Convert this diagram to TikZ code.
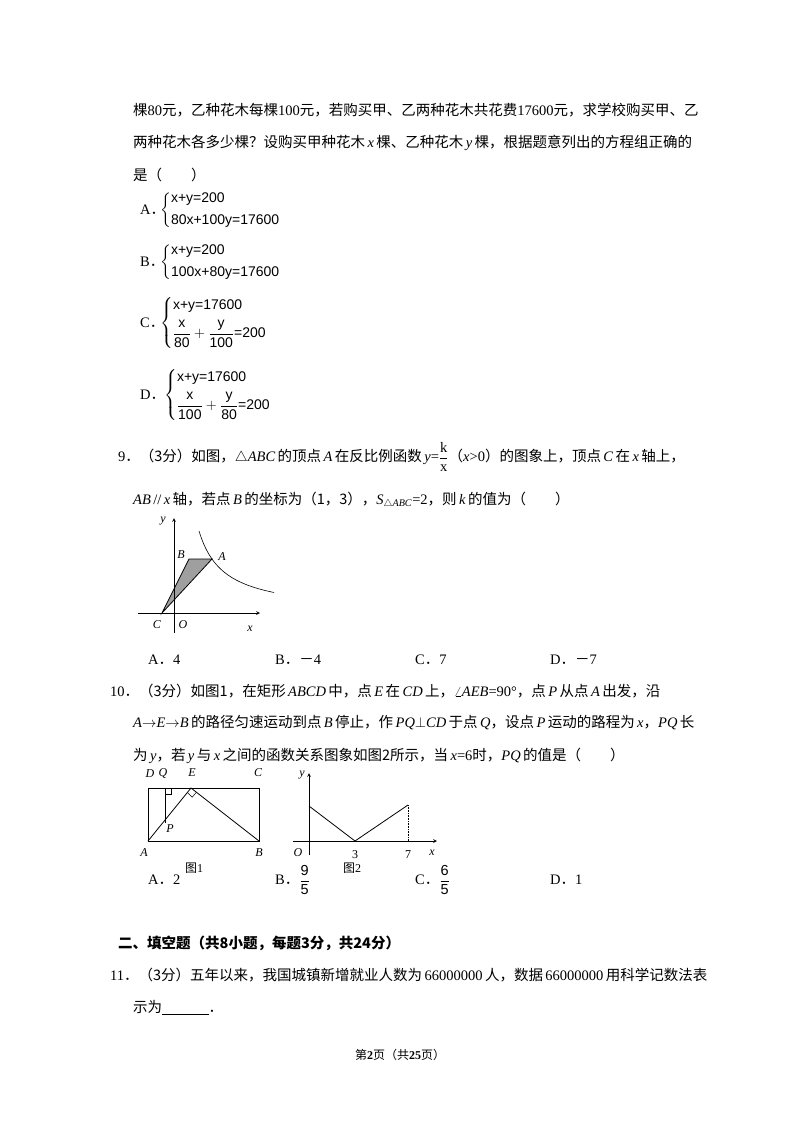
\documentclass[tikz,border=0pt]{standalone}
\usepackage{amsmath}
\usepackage{fontspec}
\setmainfont{Liberation Serif}
\setsansfont{Liberation Sans}
\newfontfamily\cjk{Noto Sans CJK SC}
\newcommand{\zh}[1]{{\cjk #1}}
\usetikzlibrary{calc}
\begin{document}
\begin{tikzpicture}[x=1pt,y=-1pt,
  txt/.style={anchor=west,inner sep=0pt,font=\fontsize{14.5}{16}\selectfont},
  eq/.style={anchor=west,inner sep=0pt,font=\fontsize{14}{16}\sffamily},
  lbl/.style={inner sep=0pt,font=\fontsize{12}{14}\selectfont\itshape},
  fig/.style={line width=0.8pt},
  ax/.style={line width=0.7pt,->,>=stealth}]
\useasboundingbox[fill=white] (0,0) rectangle (800,1132);
% question 8 tail
\node[txt] (l1) at (133,110) {\zh{棵}80\zh{元，乙种花木每棵}100\zh{元，若购买甲、乙两种花木共花费}17600\zh{元，求学校购买甲、乙}};
\node[txt] (l2) at (133,143) {\zh{两种花木各多少棵？设购买甲种花木}\,\textit{x}\,\zh{棵、乙种花木}\,\textit{y}\,\zh{棵，根据题意列出的方程组正确的}};
\node[txt] (l3) at (133,175) {\zh{是（\qquad）}};
\node[txt] (oA) at (140,210) {A\zh{．}};
\node[eq] (eA) at (160,210) {$\left\{\begin{array}{@{}l@{}}\textsf{x+y=200}\\[6pt]\textsf{80x+100y=17600}\end{array}\right.$};
\node[txt] (oB) at (140,262) {B\zh{．}};
\node[eq] (eB) at (160,262) {$\left\{\begin{array}{@{}l@{}}\textsf{x+y=200}\\[6pt]\textsf{100x+80y=17600}\end{array}\right.$};
\node[txt] (oC) at (140,323) {C\zh{．}};
\node[eq] (eC) at (160,323) {$\left\{\begin{array}{@{}l@{}}\textsf{x+y=17600}\\[6pt]\dfrac{\textsf{x}}{\textsf{80}}+\dfrac{\textsf{y}}{\textsf{100}}\textsf{=200}\end{array}\right.$};
\node[txt] (oD) at (140,395) {D\zh{．}};
\node[eq] (eD) at (164,395) {$\left\{\begin{array}{@{}l@{}}\textsf{x+y=17600}\\[6pt]\dfrac{\textsf{x}}{\textsf{100}}+\dfrac{\textsf{y}}{\textsf{80}}\textsf{=200}\end{array}\right.$};
% question 9
\node[txt] (q9) at (118,457) {9\zh{．（3分）如图，}$\triangle$\textit{ABC}\,\zh{的顶点}\,\textit{A}\,\zh{在反比例函数}\,\textit{y}=$\dfrac{\mathrm{k}}{\mathrm{x}}$\zh{（}\textit{x}>0\zh{）的图象上，顶点}\,\textit{C}\,\zh{在}\,\textit{x}\,\zh{轴上，}};
\node[txt] (q9b) at (133,500) {\textit{AB}\,//\,\textit{x}\,\zh{轴，若点}\,\textit{B}\,\zh{的坐标为（1，3），}\textit{S}$_{\triangle \mathit{ABC}}$=2\zh{，则}\,\textit{k}\,\zh{的值为（\qquad）}};
% figure 9
\coordinate (O9) at (174,613);
\coordinate (B9) at (189,559);
\coordinate (A9) at (212,559);
\coordinate (C9) at (162,613);
\filldraw[fill=gray!75,fig] (C9) -- (B9) -- (A9) -- cycle;
\draw[ax] (174,633) -- (174,518);
\draw[ax] (138,613) -- (260,613);
\draw[line width=0.6pt] plot[domain=25:100,samples=60,smooth] ({174+\x},{613-2052/\x});
\node[lbl] (ly9) at (163,521) {y};
\node[lbl] (lB9) at (181,555) {B};
\node[lbl] (lA9) at (222,557) {A};
\node[lbl] (lC9) at (157,625) {C};
\node[lbl] (lO9) at (183,625) {O};
\node[lbl] (lx9) at (250,629) {x};
\node[txt] (a9) at (148,660) {A\zh{．}4};
\node[txt] (b9) at (275,660) {B\zh{．－}4};
\node[txt] (c9) at (415,660) {C\zh{．}7};
\node[txt] (d9) at (550,660) {D\zh{．－}7};
% question 10
\node[txt] (q10) at (110,691) {10\zh{．（3分）如图1，在矩形}\,\textit{ABCD}\,\zh{中，点}\,\textit{E}\,\zh{在}\,\textit{CD}\,\zh{上，}$\angle$\textit{AEB}=90°\zh{，点}\,\textit{P}\,\zh{从点}\,\textit{A}\,\zh{出发，沿}};
\node[txt] (q10b) at (133,723) {\textit{A}$\rightarrow$\textit{E}$\rightarrow$\textit{B}\,\zh{的路径匀速运动到点}\,\textit{B}\,\zh{停止，作}\,\textit{PQ}$\perp$\textit{CD}\,\zh{于点}\,\textit{Q}\zh{，设点}\,\textit{P}\,\zh{运动的路程为}\,\textit{x}\zh{，}\textit{PQ}\,\zh{长}};
\node[txt] (q10c) at (133,756) {\zh{为}\,\textit{y}\zh{，若}\,\textit{y}\,\zh{与}\,\textit{x}\,\zh{之间的函数关系图象如图2所示，当}\,\textit{x}=6\zh{时，}\textit{PQ}\,\zh{的值是（\qquad）}};
% figure 1
\coordinate (A1) at (148,841);
\coordinate (B1) at (259,841);
\coordinate (C1) at (259,788);
\coordinate (D1) at (148,788);
\coordinate (E1) at (191,788);
\coordinate (Q1) at (165,788);
\coordinate (P1) at (165,823);
\draw[fig] (A1) rectangle (C1);
\draw[fig] (A1) -- (E1) -- (B1);
\draw[fig] (Q1) -- (P1);
\draw[line width=0.5pt] (165,794) -- (171,794) -- (171,788);
\draw[line width=0.5pt] ($(E1)+(-3.4,4.6)$) -- ($(E1)+(1.2,9.2)$) -- ($(E1)+(5.4,4.2)$);
\node[lbl] (lD1) at (150,774) {D};
\node[lbl] (lQ1) at (163,773) {Q};
\node[lbl] (lE1) at (192,773) {E};
\node[lbl] (lC1) at (258,773) {C};
\node[lbl] (lA1) at (144,853) {A};
\node[lbl] (lP1) at (170,829) {P};
\node[lbl] (lB1) at (259,853) {B};
\node[inner sep=0pt,font=\fontsize{12}{14}\selectfont] (f1) at (194,868) {\zh{图}1};
% figure 2
\draw[ax] (309,855) -- (309,773);
\draw[ax] (293,841) -- (437,841);
\draw[fig] (309,806) -- (355,841) -- (408,805);
\draw[line width=0.6pt,densely dotted] (408,805) -- (408,841);
\node[lbl] (ly2) at (302,775) {y};
\node[lbl] (lO2) at (298,853) {O};
\node[inner sep=0pt,font=\fontsize{12}{14}\selectfont] (l32) at (355,855) {3};
\node[inner sep=0pt,font=\fontsize{12}{14}\selectfont] (l72) at (408,855) {7};
\node[lbl] (lx2) at (432,853) {x};
\node[inner sep=0pt,font=\fontsize{12}{14}\selectfont] (f2) at (352,868) {\zh{图}2};
\node[txt] (a10) at (148,880) {A\zh{．}2};
\node[txt] (b10) at (275,880) {B\zh{．}$\dfrac{\textsf{9}}{\textsf{5}}$};
\node[txt] (c10) at (415,880) {C\zh{．}$\dfrac{\textsf{6}}{\textsf{5}}$};
\node[txt] (d10) at (550,880) {D\zh{．}1};
% section 2
\node[txt,font=\fontsize{14.5}{16}\selectfont\bfseries] (s2) at (118,943) {\zh{二、填空题（共8小题，每题3分，共24分）}};
\node[txt] (q11) at (110,975) {11\zh{．（3分）五年以来，我国城镇新增就业人数为}\,66000000\,\zh{人，数据}\,66000000\,\zh{用科学记数法表}};
\node[txt] (q11b) at (133,1008) {\zh{示为}\underline{\hspace{3.2em}}\zh{．}};
\node[inner sep=0pt,font=\fontsize{12}{14}\selectfont] (foot) at (400,1055) {\zh{第}\textbf{2}\zh{页（共}\textbf{25}\zh{页）}};
\end{tikzpicture}
\end{document}
